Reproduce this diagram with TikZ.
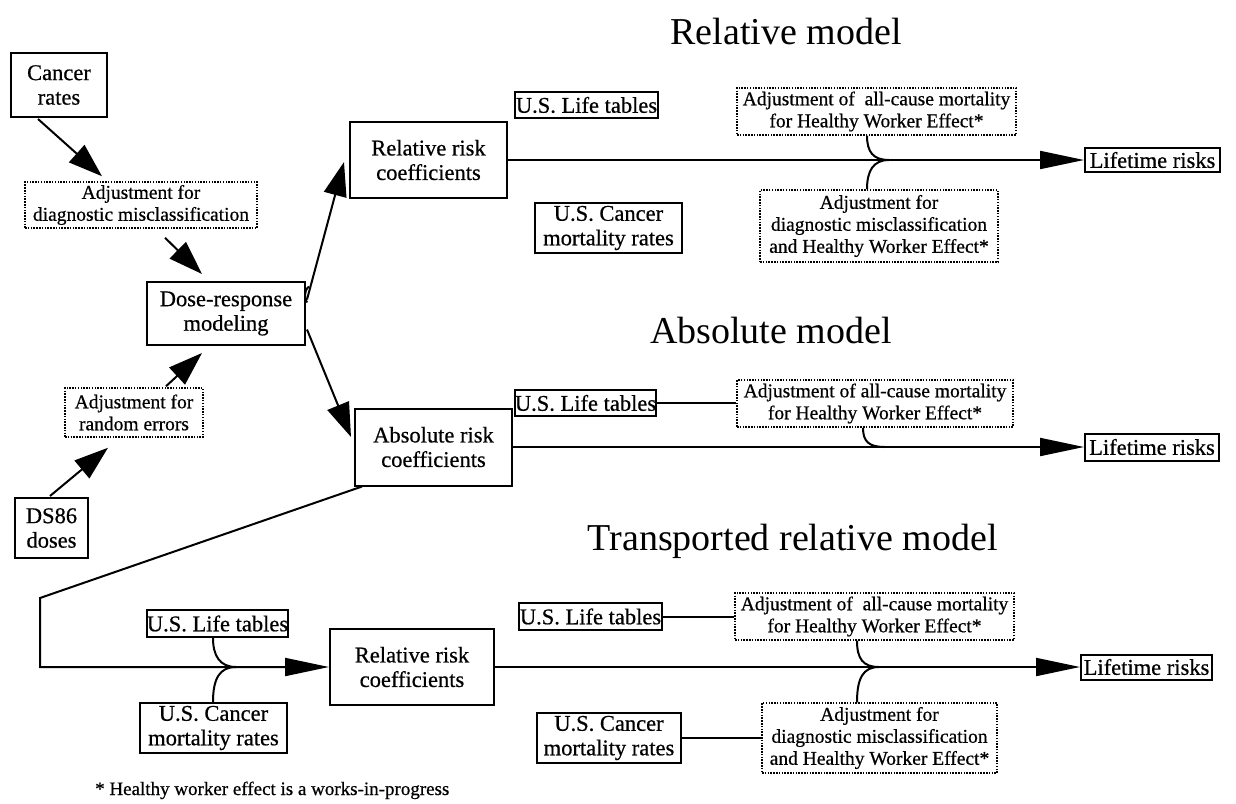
\documentclass[tikz,border=0pt]{standalone}
\usepackage{fontspec}
\setmainfont{Liberation Serif}[FakeBold=0.6]
\newfontfamily\titlefont{Liberation Serif}
\usetikzlibrary{arrows.meta,calc}
\begin{document}
\begin{tikzpicture}[x=1pt,y=-1pt,
  solidbox/.style={draw, line width=2pt, align=center, inner sep=0pt, font=\fontsize{22.5}{24.5}\selectfont},
  dotbox/.style={draw, line width=1.5pt, dash pattern=on 1.5pt off 1.3pt, align=center, inner sep=0pt, font=\fontsize{19.5}{22}\selectfont},
  conn/.style={line width=2pt},
  bigtip/.style={conn, -{Triangle[length=44pt,width=18pt]}},
  diagtip/.style={conn, -{Triangle[length=34pt,width=23pt]}},
  titletext/.style={font=\titlefont\fontsize{38}{40}\selectfont, inner sep=0pt},
]
\path[use as bounding box, fill=white] (0,0) rectangle (1236,803);

% titles
\node[titletext, anchor=base] (t1) at (786,44) {Relative model};
\node[titletext, anchor=base] (t2) at (771,343) {Absolute model};
\node[titletext, anchor=base east] (t3) at (998,550) {Transported relative model};

% left part
\node[solidbox, minimum width=96pt, minimum height=64pt] (cancer) at (59,85) {Cancer\\rates};
\node[dotbox, minimum width=232pt, minimum height=46pt] (adjdiag) at (141,205) {Adjustment for\\diagnostic misclassification};
\node[solidbox, minimum width=158pt, minimum height=63pt] (dose) at (226,313.5) {Dose-response\\modeling};
\node[dotbox, minimum width=138pt, minimum height=49pt] (adjrand) at (134,412.5) {Adjustment for\\random errors};
\node[solidbox, minimum width=73pt, minimum height=60pt] (ds86) at (51.5,528) {DS86\\doses};

\draw[diagtip] ($(cancer.south)+(-21,1)$) -- ($(adjdiag.north)+(-39,-5)$);
\draw[diagtip] ($(adjdiag.south)+(24,9)$) -- ($(dose.north)+(-24,-7)$);
\draw[diagtip] ($(adjrand.north)+(32,-1)$) -- ($(dose.south)+(-24,7)$);
\draw[diagtip] ($(ds86.north)+(-1.5,-1)$) -- ($(adjrand.south)+(-26,10)$);

% relative model
\node[solidbox, minimum width=157pt, minimum height=76pt] (rrc1) at (428.5,160) {Relative risk\\coefficients};
\node[solidbox, minimum width=143pt, minimum height=26pt] (lt1) at (586.5,105) {U.S. Life tables};
\node[solidbox, minimum width=147pt, minimum height=50pt] (cm1) at (608.5,228) {U.S. Cancer\\mortality rates};
\node[dotbox, minimum width=279pt, minimum height=47pt] (adjall1) at (876.5,111.5) {Adjustment of\ \ all-cause mortality\\for Healthy Worker Effect*};
\node[dotbox, minimum width=238pt, minimum height=72pt] (adjdh1) at (879,226) {Adjustment for\\diagnostic misclassification\\and Healthy Worker Effect*};
\node[solidbox, minimum width=135pt, minimum height=24pt] (life1) at (1152.5,160) {Lifetime risks};

\draw[diagtip] ($(dose.east)+(1,-14)$) -- ($(rrc1.west)+(-5,2)$);
\draw[conn] ($(dose.east)+(3,-27)$) .. controls +(-6,5) and +(-2,-4) .. ($(dose.east)+(1,-11)$);
\draw[bigtip] (rrc1.east) -- (life1.west);
\coordinate (m1) at (889,160);
\draw[conn] ($(adjall1.south)+(-9.5,0)$) .. controls +(0,16) and +(-16,0) .. (m1);
\draw[conn] ($(adjdh1.north)+(-12,0)$) .. controls +(0,-18) and +(-16,0) .. (m1);

% absolute model
\node[solidbox, minimum width=157pt, minimum height=77pt] (arc1) at (433.5,447) {Absolute risk\\coefficients};
\node[solidbox, minimum width=141pt, minimum height=26pt] (lt2) at (585.5,403) {U.S. Life tables};
\node[dotbox, minimum width=276pt, minimum height=47pt] (adjall2) at (875,403.5) {Adjustment of all-cause mortality\\for Healthy Worker Effect*};
\node[solidbox, minimum width=134pt, minimum height=27pt] (life2) at (1152,447) {Lifetime risks};

\draw[diagtip] ($(dose.east)+(1,16)$) -- ($(arc1.west)+(-3,-10)$);
\draw[bigtip] (arc1.east) -- (life2.west);
\draw[conn] (lt2.east) -- (lt2.east -| adjall2.west);
\coordinate (m2) at (885,447);
\draw[conn] ($(adjall2.south)+(-12,0)$) .. controls +(0,14) and +(-16,0) .. (m2);

% transported relative model
\node[solidbox, minimum width=141pt, minimum height=27pt] (lt3) at (217.5,623.5) {U.S. Life tables};
\node[solidbox, minimum width=147pt, minimum height=50pt] (cm3) at (213.5,728) {U.S. Cancer\\mortality rates};
\node[solidbox, minimum width=164pt, minimum height=76pt] (rrc3) at (412,667) {Relative risk\\coefficients};
\node[solidbox, minimum width=143pt, minimum height=27pt] (lt4) at (590.5,616.5) {U.S. Life tables};
\node[solidbox, minimum width=144pt, minimum height=50pt] (cm4) at (609,738) {U.S. Cancer\\mortality rates};
\node[dotbox, minimum width=279pt, minimum height=47pt] (adjall3) at (874.5,616.5) {Adjustment of\ \ all-cause mortality\\for Healthy Worker Effect*};
\node[dotbox, minimum width=235pt, minimum height=70pt] (adjdh3) at (879.5,738) {Adjustment for\\diagnostic misclassification\\and Healthy Worker Effect*};
\node[solidbox, minimum width=131pt, minimum height=25pt] (life3) at (1146.5,667) {Lifetime risks};

\coordinate (c1) at (40,598);
\draw[bigtip] ($(arc1.south west)+(8,0)$) -- (c1) -- (c1 |- rrc3.west) -- (rrc3.west);
\coordinate (m3) at (236,667);
\draw[conn] ($(lt3.south)+(-4.5,0)$) .. controls +(0,18) and +(-16,0) .. (m3);
\draw[conn] ($(cm3.north)+(-0.5,0)$) .. controls +(0,-24) and +(-16,0) .. (m3);

\draw[bigtip] (rrc3.east) -- (life3.west);
\draw[conn] (lt4.east) -- (lt4.east -| adjall3.west);
\draw[conn] (cm4.east) -- (cm4.east -| adjdh3.west);
\coordinate (m4) at (879,667);
\draw[conn] ($(adjall3.south)+(-17.5,0)$) .. controls +(0,18) and +(-16,0) .. (m4);
\draw[conn] ($(adjdh3.north)+(-22.5,0)$) .. controls +(0,-24) and +(-16,0) .. (m4);

% footnote
\node[anchor=base west, inner sep=0pt, font=\fontsize{19}{22}\selectfont] (note) at (95,795) {* Healthy worker effect is a works-in-progress};
\end{tikzpicture}
\end{document}
